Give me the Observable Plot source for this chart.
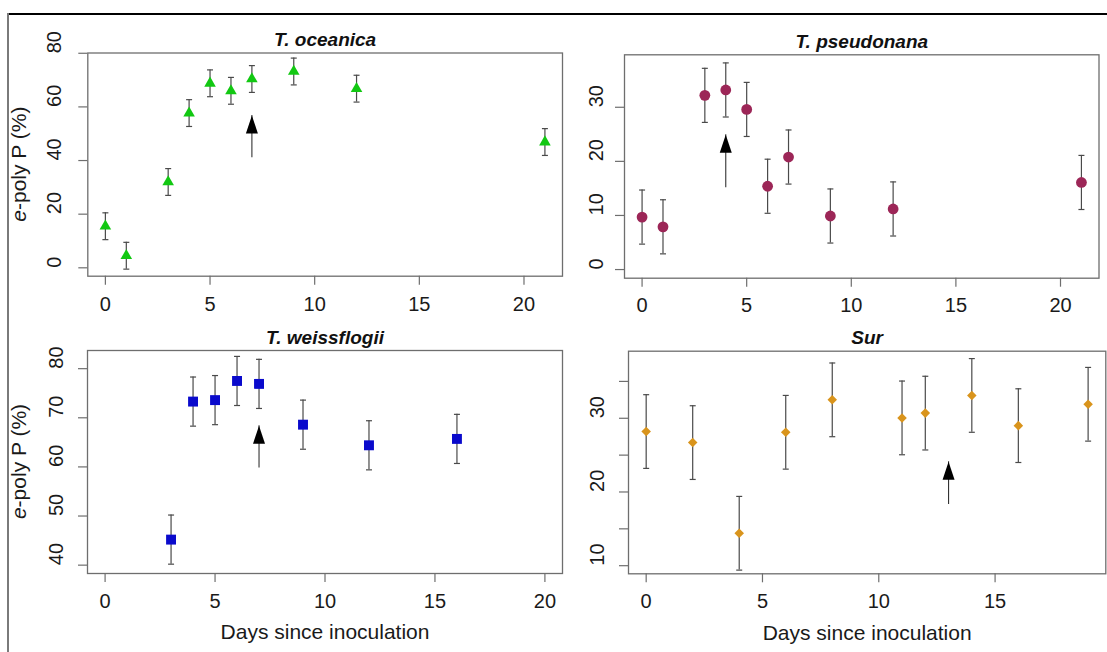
<!DOCTYPE html>
<html>
<head>
<meta charset="utf-8">
<script src="https://cdn.jsdelivr.net/npm/d3@7"></script>
<script src="https://cdn.jsdelivr.net/npm/@observablehq/plot@0.6"></script>
<style>
html, body { margin: 0; padding: 0; background: #fff; }
#chart { position: relative; width: 1107px; height: 652px; overflow: hidden; font-family: "Liberation Sans", Arial, sans-serif; }
#chart svg { position: absolute; }
.topline { position: absolute; left: 8px; top: 13px; width: 1099px; height: 2px; background: #000; }
.leftline { position: absolute; left: 7px; top: 13px; width: 2px; height: 639px; background: #7a7a7a; }
</style>
</head>
<body>
<div id="chart"><div class="topline"></div><div class="leftline"></div></div>
<script>
// ---------------- data ----------------
const titles = ["T. oceanica", "T. pseudonana", "T. weissflogii", "Sur"];
const xLabel = "Days since inoculation";

const daysOceanica = [0, 1, 3, 4, 5, 6, 7, 9, 12, 21];
const polyPOceanica = [15.5, 4.5, 32.0, 57.7, 68.8, 66.0, 70.4, 73.2, 66.8, 46.9];
const errOceanica = [5, 5, 5, 5, 5, 5, 5, 5, 5, 5];

const daysPseudonana = [0, 1, 3, 4, 5, 6, 7, 9, 12, 21];
const polyPPseudonana = [9.7, 7.9, 32.2, 33.2, 29.6, 15.4, 20.8, 9.9, 11.2, 16.1];
const errPseudonana = [5, 5, 5, 5, 5, 5, 5, 5, 5, 5];

const daysWeissflogii = [3, 4, 5, 6, 7, 9, 12, 16];
const polyPWeissflogii = [45.2, 73.3, 73.6, 77.5, 76.9, 68.6, 64.4, 65.7];
const errWeissflogii = [5, 5, 5, 5, 5, 5, 5, 5];

const daysSur = [0, 2, 4, 6, 8, 11, 12, 14, 16, 19];
const polyPSur = [28.2, 26.7, 14.4, 28.1, 32.5, 30.05, 30.7, 33.1, 29.0, 31.9];
const errSur = [5, 5, 5, 5, 5, 5, 5, 5, 5, 5];

// arrows: day, tail value, tip value
const arrowDay = [7, 4, 7, 13];
const arrowTail = [41.0, 15.1, 59.8, 18.3];
const arrowTip = [56.8, 24.9, 68.4, 24.1];

// tick values
const xTicksA = [0, 5, 10, 15, 20];
const xTicksSur = [0, 5, 10, 15];
const yTicksOceanica = [0, 20, 40, 60, 80];
const yTicksPseudonana = [0, 10, 20, 30];
const yTicksWeissflogii = [40, 50, 60, 70, 80];
const yTicksSur = [10, 15, 20, 25, 30, 35];
const yLabelsSur = [10, 20, 30];

// ---------------- layout ----------------
const chart = document.getElementById("chart");
const FONT = '"Liberation Sans", Arial, Helvetica, sans-serif';
const TXT = "#1a1a1a";
const AX = "#6e6e6e";
const TICKFS = 20;

const capSymbol = { draw(ctx) { ctx.moveTo(-3, 0); ctx.lineTo(3, 0); } };
const headSymbol = { draw(ctx) { ctx.moveTo(0, 0); ctx.lineTo(6, 18); ctx.lineTo(-6, 18); ctx.closePath(); } };

function makePanel(cfg) {
  const { q, box } = cfg;
  const rows = cfg.days.map((d, i) => ({
    day: d, value: cfg.values[i], lo: cfg.values[i] - cfg.errs[i], hi: cfg.values[i] + cfg.errs[i]
  }));
  const arrows = [{ day: arrowDay[cfg.idx], tail: arrowTail[cfg.idx], tip: arrowTip[cfg.idx] }];
  const svg = Plot.plot({
    width: q.w, height: q.h,
    marginLeft: box.x1 - q.x, marginRight: q.x + q.w - box.x2,
    marginTop: box.y1 - q.y, marginBottom: q.y + q.h - box.y2,
    x: { domain: cfg.xDomain, axis: null },
    y: { domain: cfg.yDomain, axis: null },
    style: { fontFamily: FONT, background: "none", overflow: "visible" },
    marks: [
      Plot.frame({ stroke: AX, strokeWidth: 1.3 }),
      Plot.axisX(cfg.xTicks, { tickSize: 9, tickFormat: () => "", stroke: AX, strokeWidth: 1.2, label: null }),
      Plot.text(cfg.xTicks, { x: d => d, frameAnchor: "bottom", lineAnchor: "middle", dy: cfg.xTickDy, text: d => String(d), fontSize: TICKFS, fill: TXT }),
      Plot.axisY(cfg.yTicks, { tickSize: 9, tickFormat: () => "", stroke: AX, strokeWidth: 1.2, label: null }),
      Plot.text(cfg.yLabels, { y: d => d, frameAnchor: "left", lineAnchor: "middle", dx: -cfg.yTickDx, rotate: -90, text: d => String(d), fontSize: TICKFS, fill: TXT }),
      Plot.ruleX(rows, { x: "day", y1: "lo", y2: "hi", stroke: "#4a4a4a", strokeWidth: 1.2 }),
      Plot.dot(rows, { x: "day", y: "lo", symbol: capSymbol, stroke: "#4a4a4a", strokeWidth: 1.2, fill: "none" }),
      Plot.dot(rows, { x: "day", y: "hi", symbol: capSymbol, stroke: "#4a4a4a", strokeWidth: 1.2, fill: "none" }),
      Plot.dot(rows, { x: "day", y: "value", symbol: cfg.symbol, r: cfg.r, fill: cfg.color, stroke: "none" }),
      Plot.ruleX(arrows, { x: "day", y1: "tail", y2: "tip", stroke: "#333", strokeWidth: 1.1 }),
      Plot.dot(arrows, { x: "day", y: "tip", symbol: headSymbol, fill: "#000", stroke: "none" }),
      Plot.text([titles[cfg.idx]], { frameAnchor: "top", lineAnchor: "middle", dy: -13, text: d => d, fontSize: 19, fontWeight: "bold", fontStyle: "italic", fill: "#111" }),
      ...(cfg.xLabel ? [Plot.text([xLabel], { frameAnchor: "bottom", lineAnchor: "middle", dy: 59, text: d => d, fontSize: 21, fill: TXT })] : [])
    ]
  });
  svg.style.left = q.x + "px";
  svg.style.top = q.y + "px";
  if (cfg.yLabel) {
    const cx = 19 - q.x, cy = (box.y1 + box.y2) / 2 - q.y;
    const t = d3.select(svg).append("text")
      .attr("transform", `translate(${cx},${cy}) rotate(-90)`)
      .attr("text-anchor", "middle").attr("dy", "0.32em")
      .attr("font-size", 21).attr("fill", TXT).attr("font-family", FONT);
    t.append("tspan").attr("font-style", "italic").text("e");
    t.append("tspan").text("-poly P (%)");
  }
  chart.append(svg);
}

makePanel({
  idx: 0, q: { x: 0, y: 0, w: 575, h: 320 }, box: { x1: 87.3, x2: 562, y1: 52.5, y2: 275.7 },
  xDomain: [-0.84, 21.84], yDomain: [-3.13, 80.1],
  xTicks: xTicksA, yTicks: yTicksOceanica, yLabels: yTicksOceanica, xTickDy: 28, yTickDx: 33,
  days: daysOceanica, values: polyPOceanica, errs: errOceanica,
  symbol: "triangle", r: 4.3, color: "#12c812", yLabel: true, xLabel: false
});
makePanel({
  idx: 1, q: { x: 575, y: 0, w: 532, h: 320 }, box: { x1: 624, x2: 1098.5, y1: 54.3, y2: 277.7 },
  xDomain: [-0.84, 21.84], yDomain: [-1.6, 39.7],
  xTicks: xTicksA, yTicks: yTicksPseudonana, yLabels: yTicksPseudonana, xTickDy: 27, yTickDx: 28,
  days: daysPseudonana, values: polyPPseudonana, errs: errPseudonana,
  symbol: "circle", r: 5.4, color: "#9c2657", yLabel: false, xLabel: false
});
makePanel({
  idx: 2, q: { x: 0, y: 320, w: 575, h: 332 }, box: { x1: 87, x2: 562, y1: 350, y2: 573 },
  xDomain: [-0.8, 20.8], yDomain: [38.3, 83.7],
  xTicks: xTicksA, yTicks: yTicksWeissflogii, yLabels: yTicksWeissflogii, xTickDy: 28, yTickDx: 31,
  days: daysWeissflogii, values: polyPWeissflogii, errs: errWeissflogii,
  symbol: "square", r: 5.6, color: "#0a0acc", yLabel: true, xLabel: true
});
makePanel({
  idx: 3, q: { x: 575, y: 320, w: 532, h: 332 }, box: { x1: 628, x2: 1105.3, y1: 350.7, y2: 573.3 },
  xDomain: [-0.76, 19.76], yDomain: [8.9, 39.1],
  xTicks: xTicksSur, yTicks: yTicksSur, yLabels: yLabelsSur, xTickDy: 28, yTickDx: 31,
  days: daysSur, values: polyPSur, errs: errSur,
  symbol: "diamond2", r: 4.3, color: "#d9941c", yLabel: false, xLabel: true
});
</script>
</body>
</html>
